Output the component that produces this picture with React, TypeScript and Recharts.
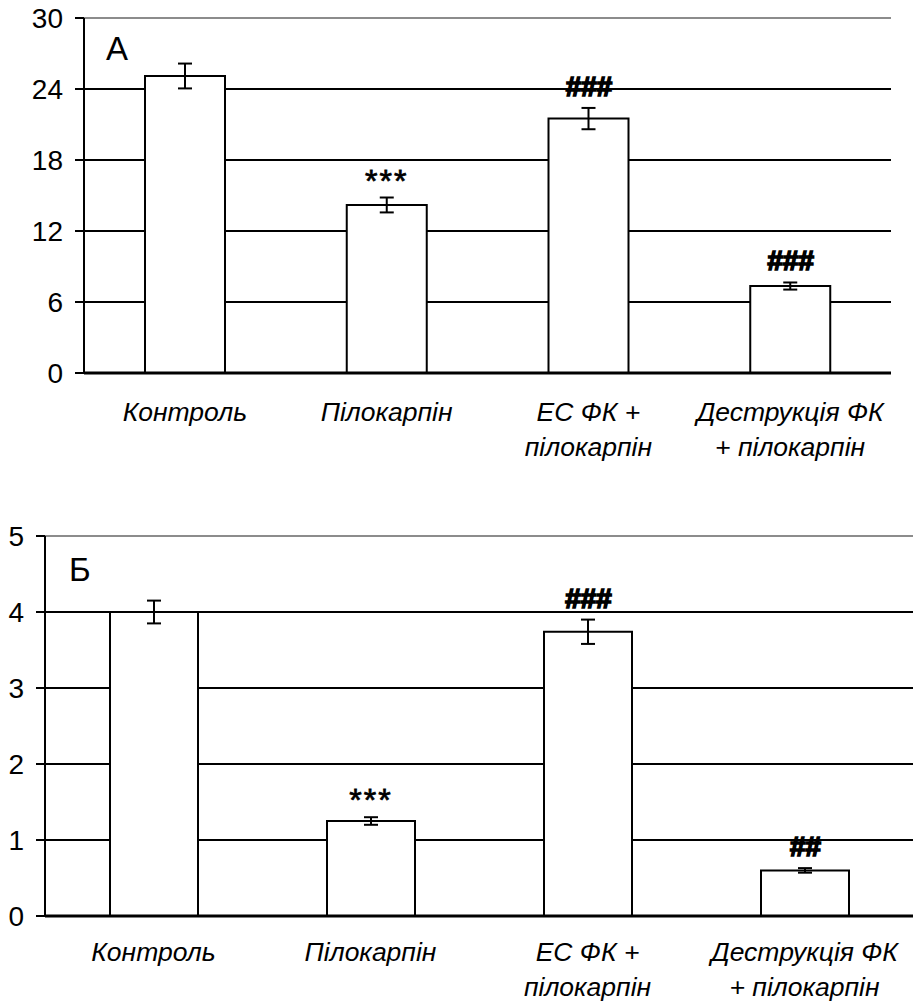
import { BarChart, Bar, XAxis, YAxis, CartesianGrid, ErrorBar, LabelList } from 'recharts';

const FONT = '"Liberation Sans", Arial, sans-serif';

// категорії (перенос рядка через \n)
const categories = ['Контроль', 'Пілокарпін', 'ЕС ФК +\nпілокарпін', 'Деструкція ФК\n+ пілокарпін'];

// панель А
const valuesA = [25.1, 14.2, 21.5, 7.35];
const errorsA = [1.05, 0.63, 0.9, 0.3];
const marksA = ['', '***', '###', '###'];
const ticksA = [0, 6, 12, 18, 24, 30];

// панель Б
const valuesB = [4.0, 1.25, 3.74, 0.6];
const errorsB = [0.15, 0.05, 0.16, 0.03];
const marksB = ['', '***', '###', '##'];
const ticksB = [0, 1, 2, 3, 4, 5];

const CategoryTick = ({ x, y, payload, first }: any) => {
  const lines = String(payload.value).split('\n');
  return (
    <g transform={`translate(${x},${y})`}>
      {lines.map((line, i) => (
        <text
          key={i}
          x={0}
          y={first + i * 35}
          textAnchor="middle"
          fill="#000"
          style={{ fontFamily: FONT, fontSize: 26.5, fontStyle: 'italic' }}
        >
          {line}
        </text>
      ))}
    </g>
  );
};

const makeMark = (values: number[], errors: number[]) => (props: any) => {
  const { x, y, width, height, value, index } = props;
  if (!value) return null;
  const pxPerUnit = height / values[index];
  const errTop = y - errors[index] * pxPerUnit;
  const isHash = String(value).startsWith('#');
  return (
    <text
      x={x + width / 2}
      y={errTop - (isHash ? 12 : 6)}
      textAnchor="middle"
      fill="#000"
      stroke="#000"
      strokeWidth={isHash ? 1.6 : 0.8}
      style={{
        fontFamily: FONT,
        fontSize: isHash ? 28 : 32,
        fontWeight: isHash ? 700 : 400,
        fontStyle: isHash ? 'italic' : 'normal',
        letterSpacing: isHash ? 0 : 2,
      }}
    >
      {value}
    </text>
  );
};

function Panel({ values, errors, marks, ticks, width, height, margin, yWidth, xHeight, barSize, labelFirst, rightBorder }: any) {
  const data = categories.map((name, i) => ({ name, v: values[i], err: errors[i], sig: marks[i] }));
  const max = ticks[ticks.length - 1];
  return (
    <BarChart width={width} height={height} data={data} margin={margin}>
      <CartesianGrid vertical={false} stroke="#000" strokeWidth={2} horizontalValues={ticks.slice(1, -1)} />
      <CartesianGrid vertical={false} stroke="#8c8c8c" strokeWidth={2} horizontalValues={[max]} />
      <XAxis
        dataKey="name"
        interval={0}
        tickLine={false}
        tickSize={0}
        tickMargin={0}
        height={xHeight}
        axisLine={{ stroke: '#000', strokeWidth: 3 }}
        tick={<CategoryTick first={labelFirst} />}
      />
      <YAxis
        domain={[0, max]}
        ticks={ticks}
        interval={0}
        width={yWidth}
        tickSize={9}
        tickMargin={12}
        axisLine={{ stroke: '#000', strokeWidth: 2 }}
        tickLine={{ stroke: '#000', strokeWidth: 2 }}
        tick={{ fill: '#000', fontSize: 28, fontFamily: FONT }}
      />
      {rightBorder && (
        <YAxis
          yAxisId="r"
          orientation="right"
          domain={[0, max]}
          width={0}
          tick={false}
          tickLine={false}
          axisLine={{ stroke: '#8c8c8c', strokeWidth: 2 }}
        />
      )}
      <Bar dataKey="v" fill="#fff" stroke="#000" strokeWidth={2} barSize={barSize} isAnimationActive={false}>
        <ErrorBar dataKey="err" width={7} stroke="#000" strokeWidth={2} direction="y" />
        <LabelList dataKey="sig" content={makeMark(values, errors)} />
      </Bar>
    </BarChart>
  );
}

export default function App() {
  return (
    <div style={{ position: 'absolute', left: 0, top: 0, width: 913, height: 1001, background: '#fff', overflow: 'hidden' }}>
      <div style={{ position: 'absolute', left: 0, top: 0 }}>
        <Panel
          values={valuesA}
          errors={errorsA}
          marks={marksA}
          ticks={ticksA}
          width={913}
          height={480}
          margin={{ top: 18, right: 22, bottom: 0, left: 0 }}
          yWidth={84}
          xHeight={107}
          barSize={80}
          labelFirst={48}
          rightBorder
        />
      </div>
      <div style={{ position: 'absolute', left: 0, top: 500 }}>
        <Panel
          values={valuesB}
          errors={errorsB}
          marks={marksB}
          ticks={ticksB}
          width={913}
          height={501}
          margin={{ top: 36, right: 0, bottom: 0, left: 0 }}
          yWidth={45}
          xHeight={85}
          barSize={88}
          labelFirst={45}
          rightBorder={false}
        />
      </div>
      <div style={{ position: 'absolute', left: 106, top: 31, fontFamily: FONT, fontSize: 33, lineHeight: '36px' }}>А</div>
      <div style={{ position: 'absolute', left: 69, top: 552, fontFamily: FONT, fontSize: 33, lineHeight: '36px' }}>Б</div>
    </div>
  );
}
